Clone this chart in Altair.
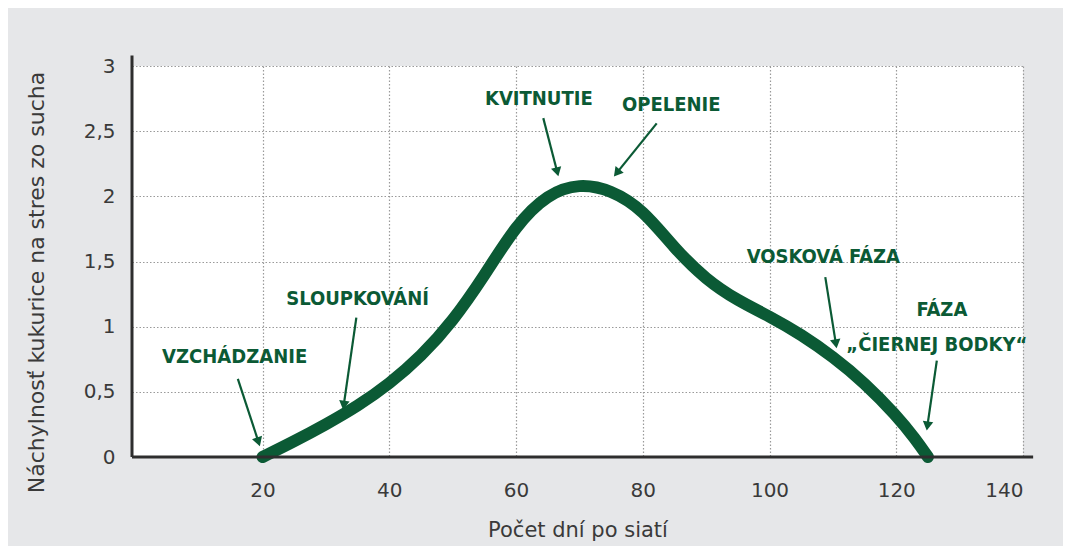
import math
import altair as alt
import pandas as pd

# ---- data ----
days = [20, 25, 30, 35, 40, 45, 50, 55, 60, 65, 70, 75, 80, 85, 90, 95, 100, 105, 110, 115, 120, 123, 125]
stress = [0.0, 0.12, 0.25, 0.39, 0.56, 0.77, 1.04, 1.39, 1.78, 2.02, 2.1, 2.05, 1.9, 1.6, 1.36, 1.2, 1.08, 0.94, 0.77, 0.57, 0.32, 0.14, 0.0]

x_ticks = [20, 40, 60, 80, 100, 120, 140]
y_ticks = [0, 0.5, 1, 1.5, 2, 2.5, 3]

labels = ["VZCHÁDZANIE", "SLOUPKOVÁNÍ", "KVITNUTIE", "OPELENIE", "VOSKOVÁ FÁZA", "FÁZA", "„ČIERNEJ BODKY“"]
label_x = [15.6, 35.0, 63.6, 84.5, 108.5, 127.2, 126.4]
label_y = [0.77, 1.21, 2.75, 2.7, 1.535, 1.125, 0.86]

arrow_x1 = [16.1, 34.8, 64.3, 82.2, 108.8, 126.4]
arrow_y1 = [0.6, 1.07, 2.6, 2.56, 1.38, 0.74]
arrow_x2 = [19.6, 32.7, 66.7, 75.4, 110.6, 124.8]
arrow_y2 = [0.08, 0.36, 2.15, 2.15, 0.83, 0.2]

# ---- layout ----
X_DOM = [-0.6, 140]
Y_DOM = [0, 3]
W, H = 891, 391
PAD = {"left": 124, "top": 58, "right": 40, "bottom": 89}
GREEN = "#0b5a35"
AXIS_COL = "#2e2e2e"
FONT = "DejaVu Sans"
ANN_FONT = "DejaVu Sans Condensed"

sx = W / (X_DOM[1] - X_DOM[0])
sy = H / (Y_DOM[1] - Y_DOM[0])

curve = pd.DataFrame({"x": days, "y": stress})
ann = pd.DataFrame({"x": label_x, "y": label_y, "t": labels})

rows = []
for x1, y1, x2, y2 in zip(arrow_x1, arrow_y1, arrow_x2, arrow_y2):
    dx = (x2 - x1) * sx
    dy = -(y2 - y1) * sy
    L = math.hypot(dx, dy)
    ang = math.degrees(math.atan2(dx, -dy)) % 360
    hx = x2 - (dx / L) * 5.0 / sx
    hy = y2 + (dy / L) * 5.0 / sy
    ex = x2 - (dx / L) * 6 / sx
    ey = y2 + (dy / L) * 6 / sy
    rows.append({"x1": x1, "y1": y1, "x2": ex, "y2": ey, "hx": hx, "hy": hy, "ang": ang})
arrows = pd.DataFrame(rows)

xs = alt.Scale(domain=X_DOM, nice=False, zero=False)
ys = alt.Scale(domain=Y_DOM, nice=False, zero=False)

base_axis = dict(
    domain=False, ticks=False, tickSize=0,
    gridColor="#9a9a9a", gridDash=[1.5, 2], gridWidth=1.2,
    labelFont=FONT, labelFontSize=20, labelColor="#3a3a3a",
    titleFont=FONT, titleColor="#3a3a3a", titleFontWeight="normal",
)

line = alt.Chart(curve).mark_line(
    color=GREEN, strokeWidth=12, strokeCap="round", strokeJoin="round", interpolate="basis"
).encode(
    x=alt.X("x:Q", scale=xs, axis=alt.Axis(
        values=x_ticks, title="Počet dní po siatí", labelPadding=23, titleFontSize=21,
        titleBaseline="alphabetic", titleY=79, **base_axis)),
    y=alt.Y("y:Q", scale=ys, axis=alt.Axis(
        values=y_ticks, title="Náchylnosť kukurice na stres zo sucha", titleFontSize=22,
        labelExpr="replace(format(datum.value, '.1~f'), '.', ',')",
        labelPadding=17, titleAngle=270, titleBaseline="alphabetic",
        titleX=-89, titleY=216, **base_axis)),
)

xaxis_line = alt.Chart(pd.DataFrame({"a": [X_DOM[0]], "b": [141.6], "y": [0]})).mark_rule(
    color=AXIS_COL, strokeWidth=3
).encode(x="a:Q", x2="b:Q", y="y:Q")

yaxis_line = alt.Chart(pd.DataFrame({"x": [X_DOM[0]], "a": [0], "b": [3.08]})).mark_rule(
    color=AXIS_COL, strokeWidth=3
).encode(x="x:Q", y="a:Q", y2="b:Q")

stems = alt.Chart(arrows).mark_rule(color=GREEN, strokeWidth=2.2).encode(
    x="x1:Q", y="y1:Q", x2="x2:Q", y2="y2:Q"
)
heads = alt.Chart(arrows).mark_point(
    shape="triangle-up", filled=True, color=GREEN, size=110, opacity=1
).encode(x="hx:Q", y="hy:Q", angle=alt.Angle("ang:Q", scale=None))

texts = alt.Chart(ann).mark_text(
    font=ANN_FONT, fontSize=20, fontWeight="bold", color=GREEN, align="center", baseline="middle"
).encode(x="x:Q", y="y:Q", text="t:N")

chart = alt.layer(line, stems, heads, texts, xaxis_line, yaxis_line).properties(
    width=W, height=H,
    autosize=alt.AutoSizeParams(type="none"),
    padding=PAD,
    background="#e6e7e9",
).configure_view(fill="white", stroke=None)

chart.save("out.html", embed_options={"renderer": "svg", "actions": False})
